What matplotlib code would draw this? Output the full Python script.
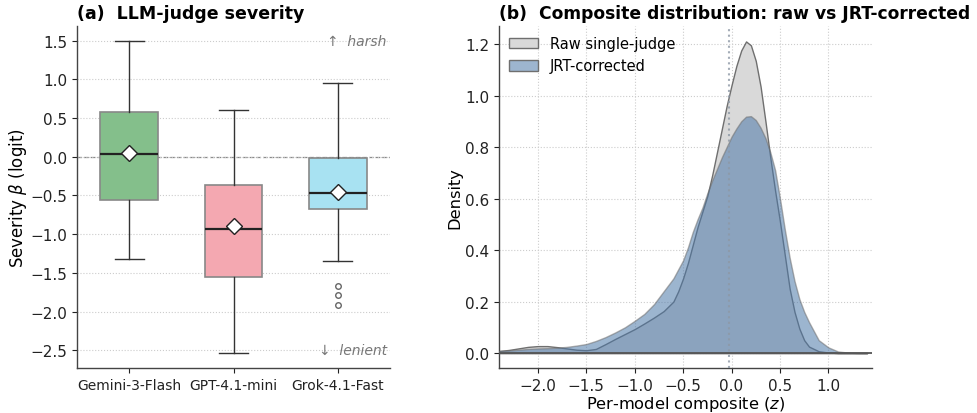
import matplotlib
matplotlib.use("Agg")
import matplotlib.pyplot as plt
from matplotlib.patches import Patch
import numpy as np

# --- panel (a): judge severity summaries ---
judges = ["Gemini-3-Flash", "GPT-4.1-mini", "Grok-4.1-Fast"]
box_colors = ["#84bf8b", "#f4a8b1", "#a8e2f2"]
whislo = [-1.32, -2.53, -1.35]
q1 = [-0.56, -1.55, -0.67]
med = [0.04, -0.93, -0.47]
q3 = [0.58, -0.36, -0.02]
whishi = [1.50, 0.61, 0.95]
means = [0.05, -0.90, -0.45]
fliers = [[], [], [-1.67, -1.79, -1.91]]

# --- panel (b): composite density curves ---
z = [-2.4, -2.3, -2.2, -2.1, -2.0, -1.9, -1.8, -1.7, -1.6, -1.5, -1.4, -1.3,
     -1.2, -1.1, -1.0, -0.9, -0.8, -0.7, -0.6, -0.55, -0.5, -0.45, -0.4, -0.35,
     -0.3, -0.25, -0.2, -0.15, -0.1, -0.05, 0.0, 0.05, 0.1, 0.15, 0.2, 0.25,
     0.3, 0.35, 0.4, 0.45, 0.5, 0.55, 0.6, 0.65, 0.7, 0.75, 0.8, 0.9, 1.0,
     1.1, 1.2, 1.3, 1.4]
raw_density = [0.008, 0.012, 0.018, 0.024, 0.027, 0.027, 0.023, 0.018, 0.013,
               0.011, 0.016, 0.035, 0.055, 0.074, 0.093, 0.115, 0.138, 0.163,
               0.200, 0.240, 0.290, 0.350, 0.420, 0.490, 0.550, 0.610, 0.690,
               0.780, 0.870, 0.960, 1.040, 1.115, 1.175, 1.210, 1.195, 1.135,
               1.035, 0.900, 0.760, 0.630, 0.510, 0.380, 0.250, 0.160, 0.095,
               0.050, 0.025, 0.007, 0.002, 0.0, 0.0, 0.0, 0.0]
jrt_density = [0.008, 0.010, 0.013, 0.016, 0.018, 0.019, 0.021, 0.024, 0.029,
               0.035, 0.047, 0.062, 0.080, 0.100, 0.125, 0.152, 0.190, 0.240,
               0.290, 0.325, 0.360, 0.410, 0.470, 0.520, 0.565, 0.620, 0.670,
               0.715, 0.760, 0.800, 0.840, 0.872, 0.900, 0.918, 0.920, 0.905,
               0.875, 0.835, 0.780, 0.710, 0.600, 0.480, 0.370, 0.280, 0.210,
               0.160, 0.120, 0.050, 0.022, 0.006, 0.002, 0.0, 0.0]
composite_mean = -0.03

fig = plt.figure(figsize=(9.77, 4.14), dpi=100)
ax1 = fig.add_axes([77 / 977, 45 / 414, 313 / 977, 342 / 414])
ax2 = fig.add_axes([499 / 977, 45 / 414, 373 / 977, 342 / 414])

for ax in (ax1, ax2):
    ax.spines["top"].set_visible(False)
    ax.spines["right"].set_visible(False)
    for s in ("left", "bottom"):
        ax.spines[s].set_color("#444444")
        ax.spines[s].set_linewidth(1.0)
    ax.tick_params(labelsize=11, colors="#222222")

# (a) boxes
stats = []
for i in range(len(judges)):
    stats.append(dict(label=judges[i], whislo=whislo[i], q1=q1[i], med=med[i],
                      q3=q3[i], whishi=whishi[i], mean=means[i], fliers=fliers[i]))
bp = ax1.bxp(stats, positions=[1, 2, 3], widths=0.55, patch_artist=True,
             showmeans=True,
             boxprops=dict(edgecolor="#888888", linewidth=1.2),
             whiskerprops=dict(color="#333333", linewidth=1.0),
             capprops=dict(color="#333333", linewidth=1.0),
             medianprops=dict(color="#222222", linewidth=1.6),
             meanprops=dict(marker="D", markerfacecolor="white",
                            markeredgecolor="#222222", markersize=8.5),
             flierprops=dict(marker="o", markerfacecolor="none",
                             markeredgecolor="#666666", markersize=4))
for patch, c in zip(bp["boxes"], box_colors):
    patch.set_facecolor(c)

ax1.axhline(0, color="#888888", ls="--", lw=0.9, zorder=0)
ax1.set_xlim(0.5, 3.5)
ax1.set_ylim(-2.73, 1.69)
ax1.set_yticks([1.5, 1.0, 0.5, 0.0, -0.5, -1.0, -1.5, -2.0, -2.5])
ax1.yaxis.grid(True, ls=":", color="#cccccc", lw=0.8)
ax1.set_axisbelow(True)
ax1.tick_params(axis="x", labelsize=10)
ax1.set_ylabel(r"Severity $\beta$ (logit)", fontsize=12, labelpad=1)
ax1.set_title("(a)  LLM-judge severity", loc="left", fontsize=12.5,
              fontweight="bold", pad=6)
ax1.text(0.99, 1.5, "↑  harsh", transform=ax1.get_yaxis_transform(),
         ha="right", va="center", style="italic", color="#777777", fontsize=10)
ax1.text(0.99, -2.5, "↓  lenient", transform=ax1.get_yaxis_transform(),
         ha="right", va="center", style="italic", color="#777777", fontsize=10)

# (b) densities
ax2.fill_between(z, raw_density, color="#d9d9d9", edgecolor="#6f6f6f",
                 linewidth=1.0, zorder=2)
ax2.fill_between(z, jrt_density, color="#4c78a8", alpha=0.55,
                 edgecolor="#6f6f6f", linewidth=1.0, zorder=3)
ax2.axvline(composite_mean, color="#8d98a5", ls=":", lw=1.5, alpha=0.8, zorder=4)
ax2.axhline(0, color="#555555", lw=1.3, zorder=5)
ax2.set_xlim(-2.4, 1.45)
ax2.set_ylim(-0.058, 1.27)
ax2.set_xticks([-2.0, -1.5, -1.0, -0.5, 0.0, 0.5, 1.0])
ax2.set_yticks([0.0, 0.2, 0.4, 0.6, 0.8, 1.0, 1.2])
ax2.grid(True, ls=":", color="#cccccc", lw=0.8)
ax2.set_axisbelow(True)
ax2.set_xlabel(r"Per-model composite ($z$)", fontsize=11.7, labelpad=1)
ax2.set_ylabel("Density", fontsize=11.7, labelpad=2)
ax2.set_title("(b)  Composite distribution: raw vs JRT-corrected", loc="left",
              fontsize=12.3, fontweight="bold", pad=6)
handles = [Patch(facecolor="#d9d9d9", edgecolor="#6f6f6f", label="Raw single-judge"),
           Patch(facecolor="#9db5cf", edgecolor="#6f6f6f", label="JRT-corrected")]
ax2.legend(handles=handles, loc="upper left", frameon=False, fontsize=10.5,
           handlelength=2.0, borderaxespad=0.3)

fig.savefig("out.png", dpi=100)
